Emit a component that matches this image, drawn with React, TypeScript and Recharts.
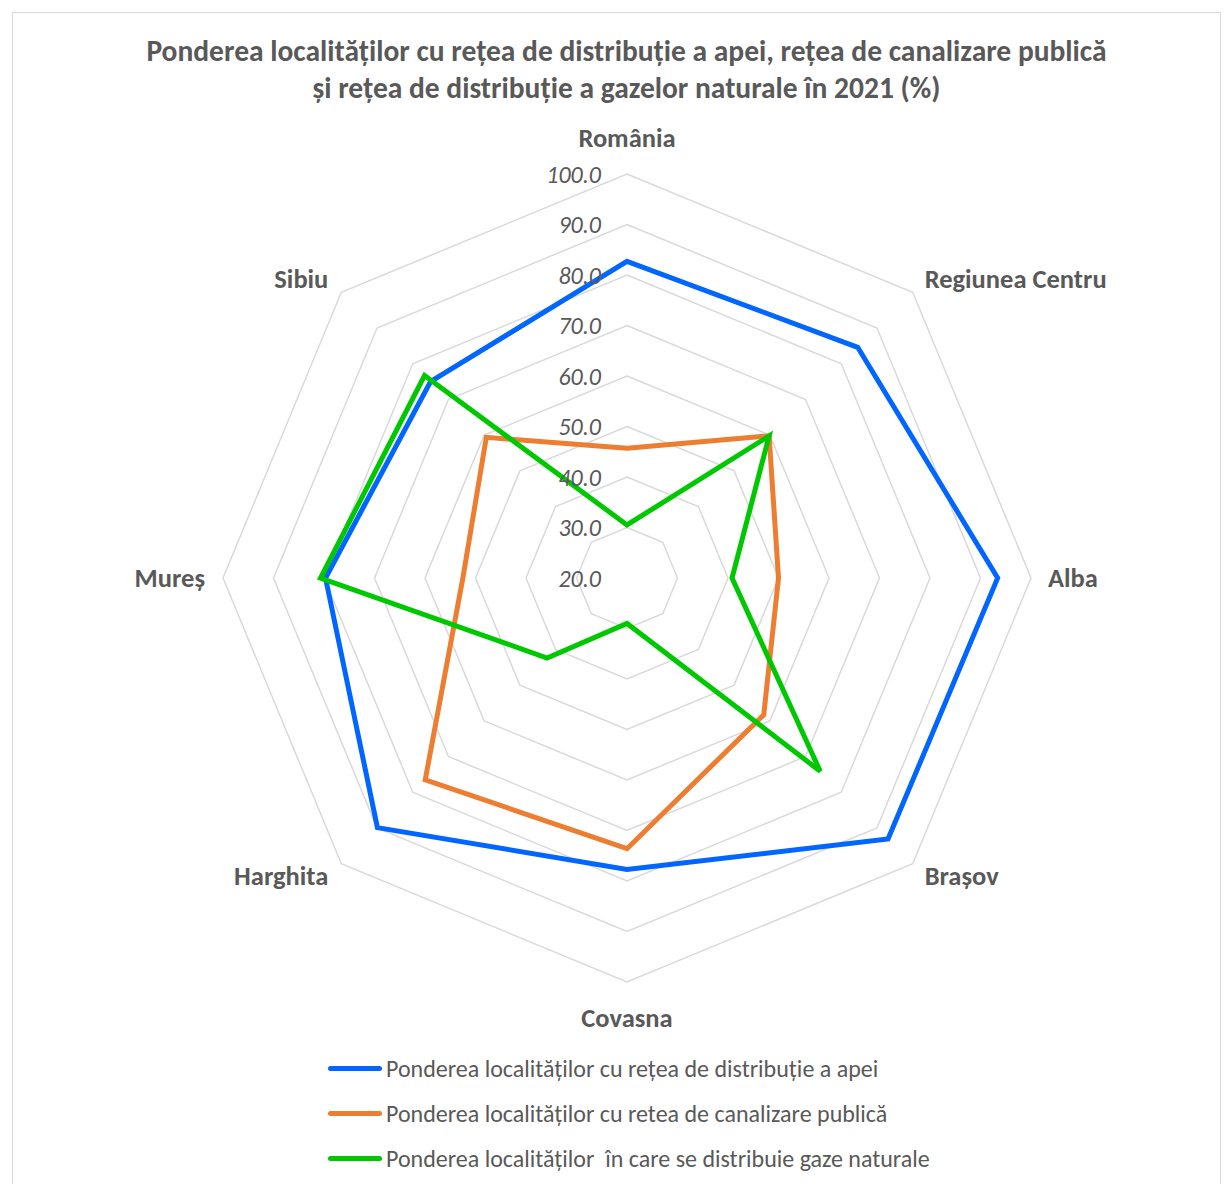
import { RadarChart, Radar, PolarGrid, PolarAngleAxis, PolarRadiusAxis, Legend } from 'recharts';

const categories = ['România', 'Regiunea Centru', 'Alba', 'Brașov', 'Covasna', 'Harghita', 'Mureș', 'Sibiu'];
const apa = [82.7, 84.6, 93.4, 93.1, 77.7, 89.9, 79.7, 75.0];
const canalizare = [45.7, 59.8, 50.0, 58.3, 73.6, 76.5, 52.5, 59.4];
const gaze = [30.5, 59.8, 40.8, 74.1, 29.0, 42.4, 80.7, 76.7];
const radiusTicks = [20, 30, 40, 50, 60, 70, 80, 90, 100];

const seriesNames = [
  'Ponderea localităților cu rețea de distribuție a apei',
  'Ponderea localităților cu retea de canalizare publică',
  'Ponderea localităților  în care se distribuie gaze naturale',
];
const COLORS = ['#0066ff', '#ed7d31', '#00c800'];

const data = categories.map((name, i) => ({
  name,
  apa: apa[i],
  canalizare: canalizare[i],
  gaze: gaze[i],
}));

const FONT = 'Carlito, Lato, "Open Sans", sans-serif';
const GREY = '#595959';
const CX = 614;
const CY = 565;
const R = 404;

// category labels sit just outside the outer ring
function AngleTick(props: any) {
  const { payload, index } = props;
  const ang = ((90 - index * 45) * Math.PI) / 180;
  const ux = Math.cos(ang);
  const uy = -Math.sin(ang);
  let x = CX + ux * R;
  let y = CY + uy * R;
  let anchor: 'start' | 'middle' | 'end' = 'middle';
  if (Math.abs(ux) < 0.1) {
    y += uy * 36;
  } else if (Math.abs(uy) < 0.1) {
    x += ux > 0 ? 17 : -18;
    anchor = ux > 0 ? 'start' : 'end';
  } else {
    x += ux > 0 ? 12 : -13;
    y += uy > 0 ? 12 : -13;
    anchor = ux > 0 ? 'start' : 'end';
  }
  return (
    <text x={x} y={y} textAnchor={anchor} dominantBaseline="central"
      fill={GREY} fontSize={26.5} fontWeight="bold" fontFamily={FONT}>
      {payload.value}
    </text>
  );
}

function RadiusTick(props: any) {
  const { x, y, payload } = props;
  return (
    <text x={x - 26} y={y} textAnchor="end" dominantBaseline="central"
      fill={GREY} fontSize={24} fontStyle="italic" fontFamily={FONT}>
      {Number(payload.value).toFixed(1)}
    </text>
  );
}

function LegendContent() {
  return (
    <div style={{ fontFamily: FONT, color: GREY, fontSize: 24 }}>
      {seriesNames.map((n, i) => (
        <div key={n} style={{ display: 'flex', alignItems: 'center', height: 45, whiteSpace: 'pre' }}>
          <div style={{ width: 54, height: 5, borderRadius: 3, background: COLORS[i], marginRight: 4 }} />
          <span>{n}</span>
        </div>
      ))}
    </div>
  );
}

export default function App() {
  return (
    <div style={{ padding: 4 }}>
      <div style={{ position: 'relative', width: 1209, height: 1180, border: '1px solid #d9d9d9', boxSizing: 'border-box', background: '#fff' }}>
        <div style={{
          position: 'absolute', left: 0, top: 20, width: 1227, textAlign: 'center',
          fontFamily: FONT, fontWeight: 'bold', fontSize: 29.5, lineHeight: '37px', color: GREY,
        }}>
          Ponderea localităților cu rețea de distribuție a apei, rețea de canalizare publică
          <br />
          și rețea de distribuție a gazelor naturale în 2021 (%)
        </div>
        <div style={{ position: 'absolute', left: 0, top: 0 }}>
          <RadarChart width={1207} height={1178} data={data} cx={CX} cy={CY} outerRadius={R}
            startAngle={90} endAngle={-270} margin={{ top: 0, right: 0, bottom: 0, left: 0 }}>
            <PolarGrid gridType="polygon" radialLines={false} stroke="#d9d9d9" strokeWidth={1.5} />
            <PolarAngleAxis dataKey="name" tick={<AngleTick />} tickLine={false} axisLine={false} />
            <PolarRadiusAxis angle={90} domain={[20, 100]} ticks={radiusTicks} tickCount={9}
              axisLine={false} tick={<RadiusTick />} />
            <Radar name={seriesNames[0]} dataKey="apa" stroke={COLORS[0]} strokeWidth={5}
              fill="none" fillOpacity={0} dot={false} isAnimationActive={false} />
            <Radar name={seriesNames[1]} dataKey="canalizare" stroke={COLORS[1]} strokeWidth={5}
              fill="none" fillOpacity={0} dot={false} isAnimationActive={false} />
            <Radar name={seriesNames[2]} dataKey="gaze" stroke={COLORS[2]} strokeWidth={5}
              fill="none" fillOpacity={0} dot={false} isAnimationActive={false} />
            <Legend content={<LegendContent />}
              wrapperStyle={{ position: 'absolute', left: 315, top: 1033, width: 800, bottom: 'auto' }} />
          </RadarChart>
        </div>
      </div>
    </div>
  );
}
